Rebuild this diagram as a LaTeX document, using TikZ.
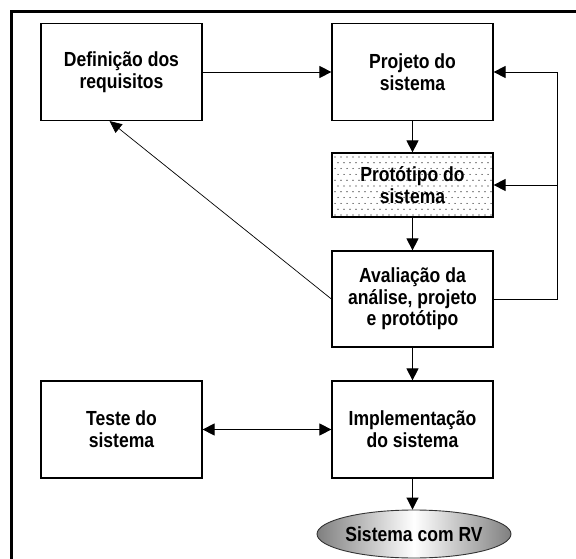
\documentclass[tikz,border=0pt]{standalone}
\usepackage{fontspec}
\setmainfont{Liberation Sans}
\newfontfamily\boxfont[FakeStretch=0.86]{Liberation Sans}
\usetikzlibrary{arrows.meta,calc,shapes.geometric}
\begin{document}
\begin{tikzpicture}[x=1pt,y=-1pt,
  txt/.style={font=\boxfont\bfseries\fontsize{20.4}{21.7}\selectfont},
  box/.style={draw, line width=1.2pt, minimum width=161pt, minimum height=97pt,
              align=center, txt, inner sep=0pt},
  arr/.style={line width=0.9pt, -{Triangle[length=12pt,width=12pt]}},
]
\useasboundingbox (0,0) rectangle (576,559);
\fill[white] (0,0) rectangle (576,559);
\draw[line width=3pt] (11.5,562) -- (11.5,12) -- (579,12);

% dotted fill of the prototype box
\begin{scope}
  \clip (332,153) rectangle (493,217);
  \foreach \r in {0,...,11} {
    \pgfmathsetmacro{\xoff}{335+mod(\r,2)*3}
    \pgfmathsetmacro{\yy}{157+\r*5.8}
    \foreach \c in {0,...,27} {
      \fill[black] ({\xoff+\c*6}, {\yy}) circle (0.6pt);
    }
  }
\end{scope}

\node[box] (def)  at (121.5,72)   {Definição dos\\requisitos};
\node[box] (proj) at (412.5,72)   {Projeto do\\sistema};
\node[box, minimum height=64pt] (prot) at (412.5,185) {Protótipo do\\sistema};
\node[box, minimum height=96pt] (aval) at (412.5,299) {Avaliação da\\análise, projeto\\e protótipo};
\node[box] (teste) at (121.5,429.5) {Teste do\\sistema};
\node[box] (impl)  at (412.5,429.5) {Implementação\\do sistema};
\node[ellipse, draw=black!80, line width=0.9pt, minimum width=192pt, minimum height=48pt,
      inner sep=0pt, txt, left color=black!50, right color=black!50, middle color=white]
      (rv) at (414,534) {Sistema com RV};

\coordinate (rail) at (557,0);

\draw[arr] (def) -- (proj);
\draw[arr] (proj) -- (prot);
\draw[arr] (prot) -- (aval);
\draw[arr] (aval) -- (impl);
\draw[arr] (impl.south) -- (impl.south |- rv.north);
\draw[line width=0.9pt, {Triangle[length=12pt,width=12pt]}-{Triangle[length=12pt,width=12pt]}] (teste) -- (impl);
\draw[arr] (aval.east) -- (aval.east -| rail) |- (proj.east);
\draw[arr] (prot.east -| rail) -- (prot.east);
\draw[line width=0.7pt, -{Triangle[length=12pt,width=11pt]}] (aval.west) -- ($(def.south west)!0.427!(def.south east)$);
\end{tikzpicture}
\end{document}
